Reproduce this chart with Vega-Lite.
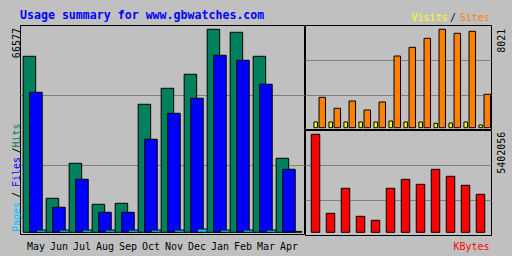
{
  "$schema": "https://vega.github.io/schema/vega-lite/v6.json",
  "background": "#C0C0C0",
  "padding": {"left": 10, "top": 10, "right": 40, "bottom": 20},
  "title": {
    "text": "Usage summary for www.gbwatches.com",
    "anchor": "start",
    "frame": "group",
    "font": "DejaVu Sans Mono",
    "fontSize": 11.6,
    "fontWeight": "bold",
    "color": "#0000FF",
    "baseline": "alphabetic",
    "offset": -19
  },
  "datasets": {
    "traffic": [
      {"month": "May", "Hits": 57728, "Files": 45920, "Pages": 750, "Visits": 465, "Sites": 2478, "KBytes": 5402056},
      {"month": "Jun", "Hits": 11152, "Files": 8200, "Pages": 750, "Visits": 465, "Sites": 1581, "KBytes": 1047340},
      {"month": "Jul", "Hits": 22632, "Files": 17384, "Pages": 750, "Visits": 465, "Sites": 2176, "KBytes": 2425410},
      {"month": "Aug", "Hits": 9184, "Files": 6560, "Pages": 750, "Visits": 465, "Sites": 1443, "KBytes": 881970},
      {"month": "Sep", "Hits": 9512, "Files": 6560, "Pages": 750, "Visits": 465, "Sites": 2095, "KBytes": 661480},
      {"month": "Oct", "Hits": 41984, "Files": 30504, "Pages": 750, "Visits": 546, "Sites": 5844, "KBytes": 2425410},
      {"month": "Nov", "Hits": 47232, "Files": 39032, "Pages": 750, "Visits": 465, "Sites": 6553, "KBytes": 2921520},
      {"month": "Dec", "Hits": 51824, "Files": 43952, "Pages": 1080, "Visits": 465, "Sites": 7287, "KBytes": 2645900},
      {"month": "Jan", "Hits": 66577, "Files": 58056, "Pages": 750, "Visits": 360, "Sites": 8021, "KBytes": 3472750},
      {"month": "Feb", "Hits": 65600, "Files": 56416, "Pages": 750, "Visits": 383, "Sites": 7694, "KBytes": 3086890},
      {"month": "Mar", "Hits": 57728, "Files": 48544, "Pages": 750, "Visits": 465, "Sites": 7857, "KBytes": 2590780},
      {"month": "Apr", "Hits": 24272, "Files": 20664, "Pages": 300, "Visits": 220, "Sites": 2722, "KBytes": 2094670}
    ]
  },
  "config": {
    "view": {"stroke": "black", "strokeWidth": 1},
    "axis": {
      "labelFont": "DejaVu Sans Mono",
      "labelFontSize": 10,
      "labelColor": "black",
      "gridColor": "#808080",
      "gridWidth": 1,
      "ticks": false,
      "domain": false,
      "labelOverlap": false,
      "labelFlush": false,
      "title": null
    }
  },
  "bounds": "flush",
  "spacing": 1,
  "hconcat": [
    {
      "width": 284,
      "height": 209,
      "data": {"name": "traffic"},
      "transform": [{"fold": ["Hits", "Files", "Pages"], "as": ["series", "value"]}],
      "mark": {"type": "bar", "width": 12.5, "stroke": "black", "strokeWidth": 1},
      "encoding": {
        "x": {
          "field": "month", "type": "ordinal",
          "sort": ["May", "Jun", "Jul", "Aug", "Sep", "Oct", "Nov", "Dec", "Jan", "Feb", "Mar", "Apr"],
          "scale": {"paddingInner": 0, "paddingOuter": 0.174, "align": 0.56},
          "axis": {"orient": "bottom", "labelAngle": 0, "labelBaseline": "alphabetic", "labelPadding": 15, "grid": false}
        },
        "xOffset": {
          "field": "series", "type": "nominal", "sort": ["Hits", "Files", "Pages"],
          "scale": {"paddingInner": 0, "paddingOuter": 2.333}
        },
        "y": {
          "field": "value", "type": "quantitative", "stack": null,
          "scale": {"domain": [-560, 67990], "nice": false, "zero": false},
          "axis": {
            "orient": "left",
            "values": [5182, 12398, 19942, 26994, 31914, 62222, 22070, 44940],
            "labelExpr": "datum.value == 5182 ? 'Pages' : datum.value == 12398 ? '/' : datum.value == 19942 ? 'Files' : datum.value == 26994 ? '/' : datum.value == 31914 ? 'Hits' : datum.value == 62222 ? '66577' : ''",
            "labelAngle": 270,
            "labelAlign": "center",
            "labelBaseline": "alphabetic",
            "labelPadding": 1,
            "labelColor": {
              "condition": [
                {"test": "datum.value == 5182", "value": "#00C0FF"},
                {"test": "datum.value == 19942", "value": "#0000FF"},
                {"test": "datum.value == 31914", "value": "#00805C"}
              ],
              "value": "black"
            },
            "grid": true,
            "gridOpacity": {"condition": {"test": "datum.value == 22070 || datum.value == 44940", "value": 1}, "value": 0}
          }
        },
        "color": {
          "field": "series", "type": "nominal",
          "scale": {"domain": ["Hits", "Files", "Pages", "Visits", "Sites", "KBytes"], "range": ["#00805C", "#0000FF", "#00C0FF", "#FFFF00", "#FF8000", "#FF0000"]},
          "legend": null
        }
      }
    },
    {
      "bounds": "flush",
      "spacing": 1,
      "vconcat": [
        {
          "width": 186,
          "height": 104,
          "data": {"name": "traffic"},
          "transform": [{"fold": ["Visits", "Sites"], "as": ["series", "value"]}],
          "mark": {"type": "bar", "stroke": "black", "strokeWidth": 1},
          "encoding": {
            "x": {
              "field": "month", "type": "ordinal",
              "sort": ["May", "Jun", "Jul", "Aug", "Sep", "Oct", "Nov", "Dec", "Jan", "Feb", "Mar", "Apr"],
              "scale": {"paddingInner": 0, "paddingOuter": 0.2, "align": 0.417},
              "axis": {
                "orient": "top", "labelAngle": 0, "labelBaseline": "alphabetic", "labelPadding": 4.7, "grid": false,
                "labelExpr": "datum.label == 'Jan' ? 'Visits' : datum.label == 'Feb' ? '/' : datum.label == 'Apr' ? 'Sites' : ''",
                "labelColor": {
                  "condition": [
                    {"test": "datum.label == 'Jan'", "value": "#FFFF00"},
                    {"test": "datum.label == 'Apr'", "value": "#FF8000"}
                  ],
                  "value": "black"
                },
                "labelOffset": {
                  "condition": [
                    {"test": "datum.label == 'Jan'", "value": -5.5},
                    {"test": "datum.label == 'Feb'", "value": 3},
                    {"test": "datum.label == 'Apr'", "value": -5.3}
                  ],
                  "value": 0
                }
              }
            },
            "xOffset": {
              "field": "series", "type": "nominal", "sort": ["Visits", "Sites"],
              "scale": {"paddingInner": 0, "paddingOuter": 0.316}
            },
            "y": {
              "field": "value", "type": "quantitative", "stack": null,
              "scale": {"domain": [-106, 8371], "nice": false, "zero": false},
              "axis": {
                "orient": "right",
                "values": [7131, 2641, 5493],
                "labelExpr": "datum.value == 7131 ? '8021' : ''",
                "labelAngle": 270,
                "labelAlign": "center",
                "labelBaseline": "alphabetic",
                "labelPadding": 13,
                "grid": true,
                "gridOpacity": {"condition": {"test": "datum.value == 2641 || datum.value == 5493", "value": 1}, "value": 0}
              }
            },
            "size": {
              "field": "series", "type": "ordinal",
              "scale": {"domain": ["Visits", "Sites"], "range": [3.5, 6.5]},
              "legend": null
            },
            "color": {
              "field": "series", "type": "nominal",
              "scale": {"domain": ["Hits", "Files", "Pages", "Visits", "Sites", "KBytes"], "range": ["#00805C", "#0000FF", "#00C0FF", "#FFFF00", "#FF8000", "#FF0000"]},
              "legend": null
            }
          }
        },
        {
          "width": 186,
          "height": 105,
          "data": {"name": "traffic"},
          "mark": {"type": "bar", "width": 8.5, "fill": "#FF0000", "stroke": "black", "strokeWidth": 1},
          "encoding": {
            "x": {
              "field": "month", "type": "ordinal",
              "sort": ["May", "Jun", "Jul", "Aug", "Sep", "Oct", "Nov", "Dec", "Jan", "Feb", "Mar", "Apr"],
              "scale": {"paddingInner": 0, "paddingOuter": 0.2},
              "axis": {
                "orient": "bottom", "labels": false, "grid": false,
                "title": "KBytes",
                "titleFont": "DejaVu Sans Mono", "titleFontSize": 10, "titleFontWeight": "normal",
                "titleColor": "#FF0000",
                "titleAlign": "right", "titleX": 184,
                "titleBaseline": "alphabetic", "titlePadding": 14.3
              }
            },
            "y": {
              "field": "KBytes", "type": "quantitative",
              "scale": {"domain": [-148832, 5639083], "nice": false, "zero": false},
              "axis": {
                "orient": "right",
                "values": [4415352, 1763936, 3693241],
                "labelExpr": "datum.value == 4415352 ? '5402056' : ''",
                "labelAngle": 270,
                "labelAlign": "center",
                "labelBaseline": "alphabetic",
                "labelPadding": 13,
                "grid": true,
                "gridOpacity": {"condition": {"test": "datum.value == 1763936 || datum.value == 3693241", "value": 1}, "value": 0}
              }
            }
          }
        }
      ]
    }
  ]
}
